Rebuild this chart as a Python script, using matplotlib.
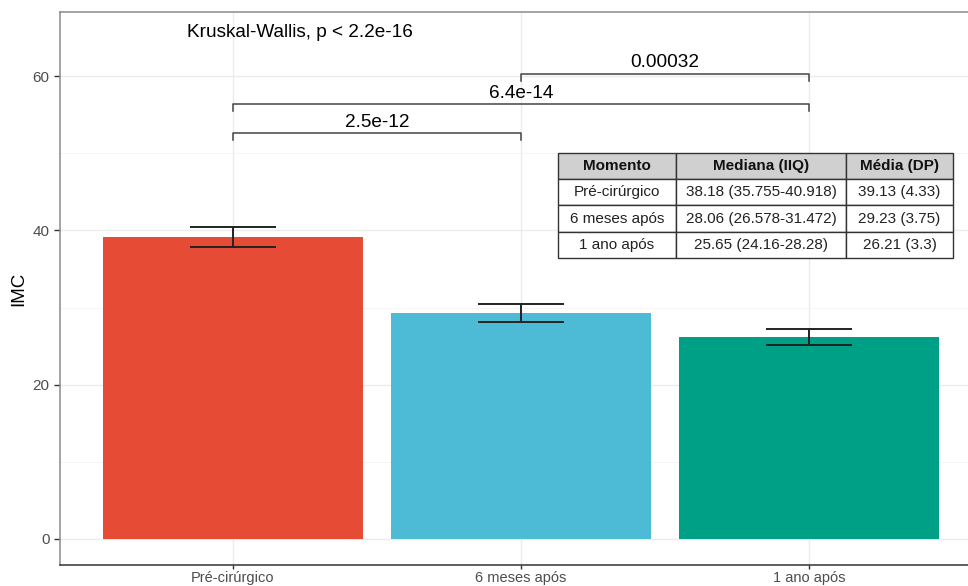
import numpy as np
import matplotlib.pyplot as plt

plt.rcParams['font.family'] = ['Liberation Sans', 'DejaVu Sans']

# data
momentos = ["Pré-cirúrgico", "6 meses após", "1 ano após"]
media = [39.13, 29.23, 26.21]
erro = [1.30, 1.17, 1.04]
cores = ["#E64B35", "#4DBBD5", "#00A087"]

# pairwise comparisons: (group a, group b, y of bracket, label)
comp_a = [1, 1, 2]
comp_b = [2, 3, 3]
comp_y = [52.6, 56.4, 60.3]
comp_lab = ["2.5e-12", "6.4e-14", "0.00032"]
kw_label = "Kruskal-Wallis, p < 2.2e-16"

tab_cols = ["Momento", "Mediana (IIQ)", "Média (DP)"]
tab_mediana = ["38.18 (35.755-40.918)", "28.06 (26.578-31.472)", "25.65 (24.16-28.28)"]
tab_media = ["39.13 (4.33)", "29.23 (3.75)", "26.21 (3.3)"]

fig = plt.figure(figsize=(9.68, 5.86), dpi=100)
ax = fig.add_axes([60/968, 21/586, 922/968, 553/586])

x = np.arange(1, len(momentos) + 1)
ax.bar(x, media, width=0.9, color=cores, zorder=2)
ax.errorbar(x, media, yerr=erro, fmt="none", ecolor="#222222", elinewidth=1.4,
            capsize=31, capthick=1.4, zorder=3)

# brackets
for a, b, y, lab in zip(comp_a, comp_b, comp_y, comp_lab):
    ax.plot([a, a, b, b], [y - 0.9, y, y, y - 0.9], color="#444444", lw=1.1, zorder=3)
    ax.text((a + b) / 2, y + 0.3, lab, ha="center", va="bottom", fontsize=13.7, color="black")

ax.text(0.84, 65.7, kw_label, ha="left", va="center", fontsize=13.7, color="black")

ax.set_xlim(0.4, 3.6)
ax.set_ylim(-3.37, 68.3)
ax.set_yticks([0, 20, 40, 60])
ax.set_yticks([10, 30, 50], minor=True)
ax.set_xticks(x)
ax.set_xticklabels(momentos)
ax.tick_params(axis="y", which="major", length=4, width=1, color="#333333",
               labelcolor="#4d4d4d", labelsize=11)
ax.tick_params(axis="x", which="major", length=3, width=1, color="#333333",
               labelcolor="#4d4d4d", labelsize=10.5, pad=1.5)
ax.tick_params(axis="y", which="minor", length=0)
ax.grid(True, which="major", color="#EBEBEB", lw=1, zorder=0)
ax.grid(True, which="minor", axis="y", color="#F4F4F4", lw=0.7, zorder=0)
ax.set_axisbelow(True)
ax.set_ylabel("IMC", fontsize=13.5, labelpad=4)

for s in ["top", "left", "right"]:
    ax.spines[s].set_color("#8a8a8a")
    ax.spines[s].set_linewidth(1.1)
ax.spines["bottom"].set_color("#333333")
ax.spines["bottom"].set_linewidth(1.1)

# summary table
cell_text = [[m, md, mn] for m, md, mn in zip(momentos, tab_mediana, tab_media)]
tb = ax.table(cellText=cell_text, colLabels=tab_cols, cellLoc="center",
              colWidths=[118, 170, 107],
              bbox=[(558 - 60) / 922, (565 - 258) / 553, 395 / 922, 105 / 553])
tb.auto_set_font_size(False)
tb.set_fontsize(11)
for (r, c), cell in tb.get_celld().items():
    cell.set_edgecolor("#333333")
    cell.set_linewidth(1.0)
    if r == 0:
        cell.set_facecolor("#d0d0d0")
        cell.set_text_props(fontweight="bold", color="#111111")
    else:
        cell.set_facecolor("white")
        cell.set_text_props(color="#222222")
tb.set_zorder(5)

plt.savefig("out.png", dpi=100)
